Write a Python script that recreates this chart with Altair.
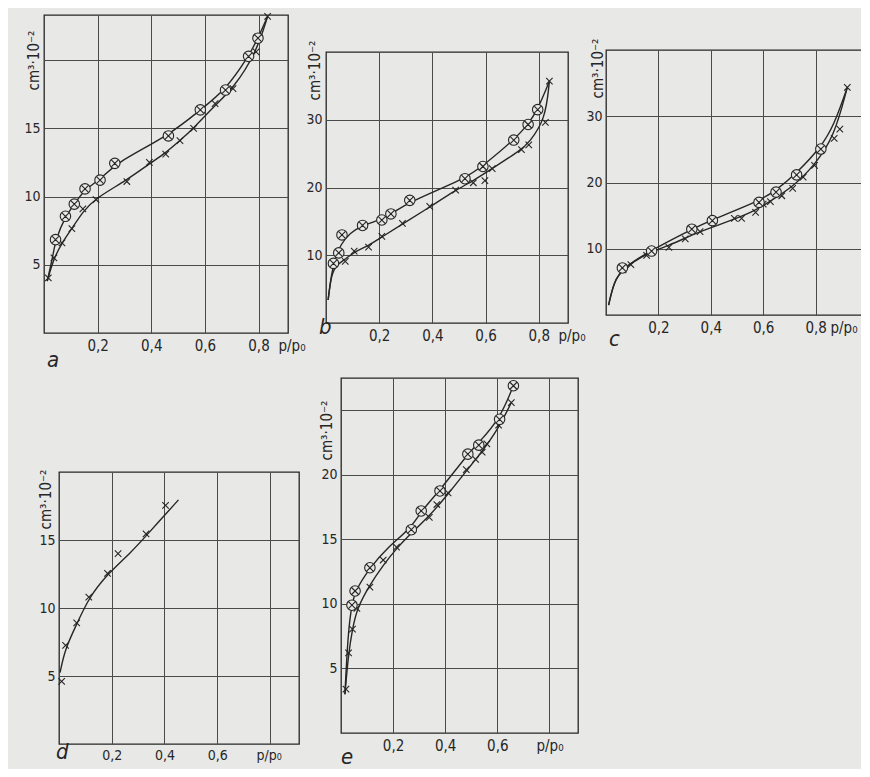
import altair as alt
import pandas as pd

FONT = "Liberation Sans Narrow, DejaVu Sans Condensed, Liberation Sans, sans-serif"
INK = "#262626"
GRID = "#4a4a4a"
BG = "#e8e8e6"

# ---------------- panel a ----------------
a_o_x = [0.043, 0.080, 0.113, 0.153, 0.209, 0.264, 0.464, 0.583, 0.677, 0.763, 0.798]
a_o_y = [6.84, 8.55, 9.44, 10.56, 11.2, 12.43, 14.44, 16.35, 17.8, 20.27, 21.6]
a_x_x = [0.016, 0.037, 0.067, 0.104, 0.145, 0.194, 0.309, 0.393, 0.454, 0.507, 0.558, 0.638, 0.705, 0.791, 0.834]
a_x_y = [4.04, 5.5, 6.6, 7.65, 9.1, 9.78, 11.1, 12.5, 13.1, 14.1, 15.0, 16.8, 17.9, 20.6, 23.2]
a_co_x = [0.012, 0.034, 0.043, 0.080, 0.113, 0.153, 0.209, 0.264, 0.464, 0.583, 0.677, 0.763, 0.798, 0.834]
a_co_y = [3.8, 5.7, 6.84, 8.55, 9.44, 10.56, 11.2, 12.43, 14.44, 16.35, 17.8, 20.27, 21.6, 23.2]
a_cx_x = [0.012, 0.037, 0.067, 0.104, 0.145, 0.194, 0.309, 0.393, 0.454, 0.507, 0.558, 0.638, 0.705, 0.791, 0.834]
a_cx_y = [3.8, 5.5, 6.6, 7.65, 8.9, 9.9, 11.2, 12.4, 13.2, 14.1, 15.0, 16.7, 17.9, 20.5, 23.2]

# ---------------- panel b ----------------
b_o_x = [0.028, 0.048, 0.06, 0.1375, 0.21, 0.244, 0.315, 0.5225, 0.59, 0.706, 0.76, 0.796]
b_o_y = [8.8, 10.35, 13.0, 14.4, 15.2, 16.1, 18.1, 21.3, 23.1, 27.0, 29.3, 31.5]
b_x_x = [0.0725, 0.106, 0.16, 0.21, 0.2875, 0.39, 0.4875, 0.554, 0.5975, 0.625, 0.735, 0.7625, 0.825, 0.84]
b_x_y = [9.1, 10.6, 11.2, 12.8, 14.7, 17.2, 19.6, 20.7, 21.0, 22.8, 25.6, 26.3, 29.6, 35.7]
b_co_x = [0.008, 0.02, 0.035, 0.055, 0.09, 0.1375, 0.21, 0.244, 0.315, 0.5225, 0.59, 0.706, 0.76, 0.796, 0.84]
b_co_y = [3.4, 7.2, 9.6, 11.6, 13.3, 14.4, 15.3, 16.1, 17.9, 21.3, 23.2, 27.0, 29.3, 31.5, 35.7]
b_cx_x = [0.008, 0.02, 0.04, 0.0725, 0.106, 0.16, 0.21, 0.2875, 0.39, 0.4875, 0.554, 0.625, 0.735, 0.7625, 0.825, 0.84]
b_cx_y = [3.4, 7.2, 8.6, 9.4, 10.5, 11.4, 12.7, 14.6, 17.1, 19.6, 21.0, 22.8, 25.6, 26.6, 30.0, 35.7]

# ---------------- panel c ----------------
c_o_x = [0.0625, 0.174, 0.3275, 0.406, 0.584, 0.649, 0.7275, 0.82]
c_o_y = [7.1, 9.65, 12.95, 14.25, 17.0, 18.55, 21.15, 25.05]
c_x_x = [0.065, 0.095, 0.155, 0.24, 0.3025, 0.359, 0.49, 0.5175, 0.571, 0.6, 0.6275, 0.671, 0.7125, 0.7525, 0.796, 0.871, 0.8925, 0.921]
c_x_y = [6.8, 7.6, 9.0, 10.2, 11.5, 12.6, 14.6, 14.6, 15.5, 16.75, 17.1, 18.0, 19.1, 20.8, 22.6, 26.65, 28.05, 34.35]
c_co_x = [0.01, 0.03, 0.0625, 0.174, 0.3275, 0.406, 0.584, 0.649, 0.7275, 0.82, 0.87, 0.921]
c_co_y = [1.5, 5.0, 7.1, 9.8, 12.95, 14.4, 17.2, 18.8, 21.4, 25.3, 28.6, 34.35]
c_cx_x = [0.01, 0.03, 0.065, 0.155, 0.24, 0.3025, 0.359, 0.5, 0.571, 0.6275, 0.7125, 0.796, 0.871, 0.921]
c_cx_y = [1.5, 5.0, 7.0, 9.3, 10.5, 11.6, 12.6, 14.6, 15.8, 17.2, 19.3, 22.6, 26.9, 34.35]

# ---------------- panel d ----------------
d_x_x = [0.01, 0.025, 0.067, 0.113, 0.184, 0.224, 0.33, 0.404]
d_x_y = [4.6, 7.25, 8.9, 10.8, 12.55, 14.0, 15.45, 17.55]
d_c_x = [0.004, 0.023, 0.067, 0.113, 0.184, 0.274, 0.33, 0.453]
d_c_y = [5.25, 7.0, 8.8, 10.75, 12.5, 14.1, 15.3, 17.95]

# ---------------- panel e ----------------
e_o_x = [0.042, 0.054, 0.111, 0.27, 0.308, 0.38, 0.487, 0.529, 0.609, 0.662]
e_o_y = [9.9, 11.0, 12.8, 15.75, 17.2, 18.75, 21.6, 22.3, 24.3, 26.9]
e_x_x = [0.019, 0.029, 0.044, 0.061, 0.111, 0.162, 0.213, 0.276, 0.339, 0.368, 0.411, 0.481, 0.517, 0.542, 0.56, 0.605, 0.654]
e_x_y = [3.4, 6.2, 8.05, 9.65, 11.3, 13.4, 14.4, 15.8, 16.7, 17.7, 18.6, 20.4, 21.2, 21.75, 22.4, 23.85, 25.6]
e_co_x = [0.015, 0.025, 0.035, 0.042, 0.054, 0.111, 0.18, 0.27, 0.308, 0.38, 0.487, 0.529, 0.609, 0.662]
e_co_y = [3.0, 7.0, 9.0, 9.9, 11.0, 12.8, 14.4, 15.9, 17.2, 18.8, 21.6, 22.5, 24.3, 26.9]
e_cx_x = [0.015, 0.029, 0.044, 0.061, 0.111, 0.162, 0.213, 0.276, 0.339, 0.411, 0.481, 0.542, 0.605, 0.654]
e_cx_y = [3.0, 6.2, 8.05, 9.65, 11.5, 13.0, 14.3, 15.6, 16.8, 18.5, 20.3, 21.8, 23.6, 25.6]

X_MARK = "M-1,-1L1,1M1,-1L-1,1"
O_MARK = "M-1,0A1,1 0 1,1 1,0A1,1 0 1,1 -1,0ZM-0.62,-0.62L0.62,0.62M0.62,-0.62L-0.62,0.62"


def lbl_expr(hide08):
    base = "replace(format(datum.value, '.1f'), '.', ',')"
    if hide08:
        return "datum.value > 0.7 ? '' : " + base
    return base


def panel(letter, w, h, xmax, ymax, ygrid, ylab_max, hide08, xtx, ytx, yty, ldx, loff,
          curves, xs=None, os=None, xfs=15, xpad=5):
    xsc = alt.Scale(domain=[0, xmax], nice=False, zero=False)
    ysc = alt.Scale(domain=[0, ymax], nice=False, zero=False)
    xax = alt.Axis(values=[0.2, 0.4, 0.6, 0.8], grid=True, gridColor=GRID, gridWidth=1,
                   ticks=False, domain=False, labelExpr=lbl_expr(hide08),
                   labelFont=FONT, labelFontSize=xfs, labelColor=INK, labelPadding=xpad,
                   title="p/p₀", titleX=xtx, titleY=xpad, titleAlign="left",
                   titleBaseline="top", titleFont=FONT, titleFontSize=xfs,
                   titleFontWeight="normal", titleColor=INK)
    yax = alt.Axis(values=ygrid, grid=True, gridColor=GRID, gridWidth=1,
                   ticks=False, domain=False,
                   labelExpr="datum.value > %s ? '' : datum.label" % ylab_max,
                   labelFont=FONT, labelFontSize=14, labelColor=INK, labelPadding=4,
                   title="cm³·10⁻²", titleAngle=270, titleAlign="right",
                   titleBaseline="middle", titleX=ytx, titleY=yty, titleFont=FONT,
                   titleFontSize=15, titleFontWeight="normal", titleColor=INK)
    rows = []
    for cid, (cx, cy) in enumerate(curves):
        for xv, yv in zip(cx, cy):
            rows.append({"x": xv, "y": yv, "c": cid})
    cdf = pd.DataFrame(rows)
    base_line = alt.Chart(cdf).mark_line(interpolate="basis", color=INK, strokeWidth=1.4).encode(
        x=alt.X("x:Q", scale=xsc, axis=xax),
        y=alt.Y("y:Q", scale=ysc, axis=yax),
        detail="c:N",
    )
    layers = [base_line]
    if xs is not None:
        xdf = pd.DataFrame({"x": xs[0], "y": xs[1]})
        layers.append(alt.Chart(xdf).mark_point(shape=X_MARK, size=42, filled=False,
                                                stroke=INK, strokeWidth=1.1, opacity=1).encode(
            x=alt.X("x:Q", scale=xsc), y=alt.Y("y:Q", scale=ysc)))
    if os is not None:
        odf = pd.DataFrame({"x": os[0], "y": os[1]})
        layers.append(alt.Chart(odf).mark_point(shape=O_MARK, size=110, filled=True,
                                                fill=BG, stroke=INK, strokeWidth=1.1,
                                                opacity=1, fillOpacity=1).encode(
            x=alt.X("x:Q", scale=xsc), y=alt.Y("y:Q", scale=ysc)))
    return alt.layer(*layers).properties(
        width=w, height=h,
        title=alt.TitleParams(text=letter, orient="bottom", anchor="start", frame="group",
                              font=FONT, fontSize=22, fontStyle="italic",
                              fontWeight="normal", color=INK, dx=ldx, offset=loff),
    )


def spacer(w, h):
    return alt.Chart(pd.DataFrame({"v": [0]})).mark_point(opacity=0).encode(
        x=alt.X("v:Q", axis=None), y=alt.Y("v:Q", axis=None)
    ).properties(width=w, height=h, view=alt.ViewBackground(strokeWidth=0))


pa = panel("a", 244, 318, 0.91, 23.3, [5, 10, 15, 20], 17, False, 234, -11, 15, 3, -3,
           [(a_co_x, a_co_y), (a_cx_x, a_cx_y)], (a_x_x, a_x_y), (a_o_x, a_o_y))
pb = panel("b", 242, 271, 0.91, 40, [10, 20, 30], 35, False, 232, -12, -12, -7, -26,
           [(b_co_x, b_co_y), (b_cx_x, b_cx_y)], (b_x_x, b_x_y), (b_o_x, b_o_y))
pc = panel("c", 262, 265, 1.0, 40, [10, 20, 30], 35, False, 224, -9, -12, 3, -6,
           [(c_co_x, c_co_y), (c_cx_x, c_cx_y)], (c_x_x, c_x_y), (c_o_x, c_o_y))
pd_ = panel("d", 240, 272, 0.91, 20, [5, 10, 15], 17, True, 197, -14, -3, -3, -20,
            [(d_c_x, d_c_y)], (d_x_x, d_x_y), None, xfs=14, xpad=4)
pe = panel("e", 237, 355, 0.91, 27.5, [5, 10, 15, 20, 25], 22, True, 195, -15, 22, 0, -6,
           [(e_co_x, e_co_y), (e_cx_x, e_cx_y)], (e_x_x, e_x_y), (e_o_x, e_o_y))

# nested concat groups count as zero-size in a flush layout, so explicit spacers
# carry the widths/heights of the nested columns.
row1 = alt.hconcat(
    pa,
    spacer(38, 1),
    alt.vconcat(spacer(1, 37), pb, spacing=0, bounds="flush"),
    spacer(280, 1),
    alt.vconcat(spacer(1, 35), pc, spacing=0, bounds="flush"),
    spacing=0, bounds="flush",
)
row2 = alt.hconcat(
    spacer(15, 1),
    alt.vconcat(spacer(1, 94), pd_, spacing=0, bounds="flush"),
    spacer(282, 1),
    pe,
    spacing=0, bounds="flush",
)
chart = alt.vconcat(row1, spacer(1, 363), row2, spacing=0, bounds="flush").configure(
    background=BG,
    padding={"left": 15, "top": 2, "right": -8, "bottom": 0},
).configure_view(stroke=INK, strokeWidth=1.3)

chart.save("out.html", embed_options={"renderer": "svg", "actions": False})
